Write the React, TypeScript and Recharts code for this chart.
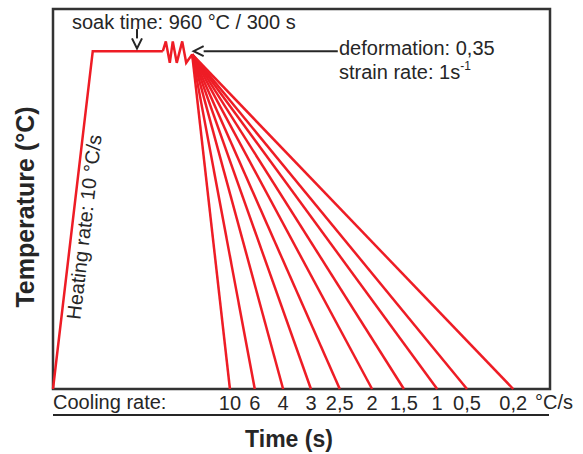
import { ComposedChart, Line, XAxis, YAxis, ReferenceArea, ReferenceLine } from "recharts"

// schematic time axis (arbitrary units 0-100) and temperature in °C
const heatingTime = [0, 8.0, 22.1]
const heatingTemp = [0, 960, 960]

const deformTime = [22.1, 22.7, 23.5, 24.1, 24.9, 26.0, 26.8, 28.0]
const deformTemp = [960, 988, 927, 988, 927, 988, 927, 951]

const coolingRates = ["10", "6", "4", "3", "2,5", "2", "1,5", "1", "0,5", "0,2"]
const coolingEndTime = [35.6, 40.6, 46.3, 51.9, 57.7, 64.2, 70.6, 77.3, 83.3, 92.6]

const RED = "#ee1c25"
const INK = "#262626"
const FONT = "'Liberation Sans', Arial, sans-serif"

const heating = heatingTime.map((t, i) => ({ t, T: heatingTemp[i] }))
const deform = deformTime.map((t, i) => ({ t, T: deformTemp[i] }))
const start = deform[deform.length - 1]
const cooling = coolingEndTime.map((end) => [start, { t: end, T: 0 }])

function Arrow(p: any) {
  const { x1, y1, x2, y2 } = p
  const a = Math.atan2(y2 - y1, x2 - x1)
  const L = 10
  const W = 5
  const bx = x2 - L * Math.cos(a)
  const by = y2 - L * Math.sin(a)
  return (
    <g>
      <line x1={x1} y1={y1} x2={bx} y2={by} stroke={INK} strokeWidth={2} />
      <polyline
        points={`${bx - W * Math.sin(a)},${by + W * Math.cos(a)} ${x2},${y2} ${bx + W * Math.sin(a)},${by - W * Math.cos(a)}`}
        fill="none"
        stroke={INK}
        strokeWidth={2}
      />
    </g>
  )
}

export default function App() {
  return (
    <div style={{ position: "absolute", left: 0, top: 0, width: 583, height: 454, background: "#fff" }}>
      <ComposedChart width={583} height={454} margin={{ top: 9, right: 33, bottom: 45, left: 53 }}>
        <XAxis
          type="number"
          dataKey="t"
          domain={[0, 100]}
          ticks={coolingEndTime}
          tickFormatter={(v) => coolingRates[coolingEndTime.indexOf(v)] ?? ""}
          axisLine={false}
          tickLine={false}
          tickSize={0}
          tickMargin={7}
          height={20}
          interval={0}
          tick={{ fontSize: 20, fill: INK, fontFamily: FONT }}
        />
        <YAxis type="number" dataKey="T" domain={[0, 1080]} hide />
        <ReferenceArea x1={0} x2={100} y1={0} y2={1080} fill="none" stroke="#333" strokeWidth={2.5} />
        <Line data={heating} dataKey="T" stroke={RED} strokeWidth={2.5} dot={false} isAnimationActive={false} />
        <Line data={deform} dataKey="T" stroke={RED} strokeWidth={2.5} dot={false} isAnimationActive={false} />
        {cooling.map((seg, i) => (
          <Line key={i} data={seg} dataKey="T" stroke={RED} strokeWidth={2.5} dot={false} isAnimationActive={false} />
        ))}
        <ReferenceLine segment={[{ x: 16.9, y: 1023 }, { x: 16.9, y: 968 }]} shape={Arrow} />
        <ReferenceLine segment={[{ x: 57.3, y: 960 }, { x: 28.3, y: 960 }]} shape={Arrow} />
      </ComposedChart>
      <svg
        width={583}
        height={454}
        style={{ position: "absolute", left: 0, top: 0, pointerEvents: "none" }}
        fontFamily={FONT}
        fill={INK}
      >
        <text x={72} y={29} fontSize={20}>soak time: 960 °C / 300 s</text>
        <text x={339} y={55} fontSize={20}>deformation: 0,35</text>
        <text x={339} y={79} fontSize={20}>
          strain rate: 1s<tspan dy={-9} fontSize={12}>-1</tspan>
        </text>
        <text
          x={84}
          y={227}
          fontSize={20}
          textAnchor="middle"
          dy="0.35em"
          transform="rotate(-83.4 84 227)"
        >
          Heating rate: 10 °C/s
        </text>
        <text
          x={25}
          y={207}
          fontSize={25}
          fontWeight="bold"
          textAnchor="middle"
          dy="0.35em"
          transform="rotate(-90 25 207)"
        >
          Temperature (°C)
        </text>
        <text x={53} y={409} fontSize={20}>Cooling rate:</text>
        <text x={535} y={409} fontSize={20}>°C/s</text>
        <line x1={53} y1={415} x2={549} y2={415} stroke={INK} strokeWidth={2} />
        <text x={289} y={447} fontSize={23} fontWeight="bold" textAnchor="middle">Time (s)</text>
      </svg>
    </div>
  )
}
